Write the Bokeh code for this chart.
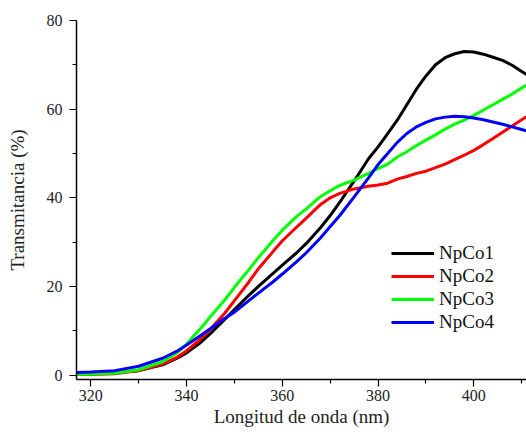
from bokeh.plotting import figure
from bokeh.models import Range1d, FixedTicker, Legend, LegendItem
from bokeh.embed import file_html
from bokeh.resources import INLINE

wavelength = [317, 320, 325, 330, 335, 338, 340, 343, 345, 348, 350, 353, 355, 358, 360,
              363, 365, 368, 370, 372, 375, 378, 380, 382, 384, 386, 388, 390, 392, 394,
              396, 398, 400, 402, 404, 406, 408, 410, 411]

npco1 = [0.2, 0.3, 0.5, 1.0, 2.3, 3.8, 5.0, 7.4, 9.4, 12.6, 14.8, 18.0, 20.0, 22.9, 24.8,
         27.6, 29.7, 33.3, 36.0, 39.0, 43.8, 48.8, 51.5, 54.5, 57.5, 61.0, 64.5, 67.5, 70.0, 71.6,
         72.5, 73.0, 72.9, 72.4, 71.7, 71.0, 69.9, 68.5, 67.8]

npco2 = [0.1, 0.1, 0.3, 1.0, 2.5, 4.0, 5.5, 8.2, 10.4, 14.0, 16.8, 21.0, 24.0, 27.8, 30.3,
         33.4, 35.4, 38.5, 40.0, 41.0, 42.0, 42.6, 42.9, 43.3, 44.2, 44.8, 45.5, 46.0, 46.8, 47.6,
         48.6, 49.6, 50.7, 52.0, 53.4, 54.8, 56.2, 57.6, 58.3]

npco3 = [0.2, 0.2, 0.4, 1.2, 3.0, 5.0, 7.0, 10.6, 13.2, 17.0, 19.8, 23.8, 26.5, 30.3, 32.7,
         35.8, 37.5, 40.3, 41.6, 42.8, 44.0, 45.5, 46.6, 47.6, 49.2, 50.4, 51.8, 53.0, 54.2, 55.5,
         56.6, 57.5, 58.6, 59.8, 61.0, 62.2, 63.4, 64.8, 65.4]

npco4 = [0.6, 0.7, 1.0, 2.0, 3.8, 5.4, 6.8, 9.0, 10.5, 12.8, 14.2, 16.8, 18.5, 21.0, 22.8,
         25.6, 27.6, 31.0, 33.5, 36.0, 40.2, 44.5, 47.5, 50.0, 52.5, 54.5, 56.0, 57.0, 57.8, 58.2,
         58.4, 58.3, 58.0, 57.6, 57.1, 56.6, 56.0, 55.4, 55.1]

series_names = ["NpCo1", "NpCo2", "NpCo3", "NpCo4"]
series_colors = ["#000000", "#FF0000", "#00FF00", "#0000FF"]
x_ticks = [320, 340, 360, 380, 400]
y_ticks = [0, 20, 40, 60, 80]

FONT = "'Liberation Serif', 'Times New Roman', serif"

p = figure(width=526, height=432, output_backend="svg", toolbar_location=None,
           x_range=Range1d(317, 411), y_range=Range1d(-1, 80),
           min_border_left=76, min_border_right=0, min_border_top=20, min_border_bottom=53)
p.outline_line_color = None
p.xgrid.visible = False
p.ygrid.visible = False

renderers = []
for ys, c in zip([npco1, npco2, npco3, npco4], series_colors):
    r = p.line(wavelength, ys, line_color=c, line_width=3)
    renderers.append(r)

for ax in (p.xaxis[0], p.yaxis[0]):
    ax.axis_line_width = 1.5
    ax.axis_line_color = "#000000"
    ax.major_tick_line_color = "#000000"
    ax.minor_tick_line_color = "#000000"
    ax.major_tick_line_width = 1.2
    ax.minor_tick_line_width = 1.2
    ax.major_tick_out = 7
    ax.major_tick_in = 0
    ax.minor_tick_out = 4
    ax.minor_tick_in = 0
    ax.major_label_text_font = FONT
    ax.major_label_text_font_size = "16px"
    ax.major_label_text_color = "#222222"
    ax.axis_label_text_font = FONT
    ax.axis_label_text_font_size = "19px"
    ax.axis_label_text_font_style = "normal"
    ax.axis_label_text_color = "#222222"

p.xaxis[0].ticker = FixedTicker(ticks=x_ticks, minor_ticks=[330, 350, 370, 390, 410])
p.yaxis[0].ticker = FixedTicker(ticks=y_ticks, minor_ticks=[10, 30, 50, 70])
p.xaxis[0].axis_label = "Longitud de onda (nm)"
p.yaxis[0].axis_label = "Transmitancia (%)"
p.xaxis[0].major_label_standoff = 3
p.yaxis[0].major_label_standoff = 7
p.xaxis[0].axis_label_standoff = 2
p.yaxis[0].axis_label_standoff = 16

legend = Legend(items=[LegendItem(label=n, renderers=[r]) for n, r in zip(series_names, renderers)],
                location=(315, 46))
legend.border_line_color = None
legend.background_fill_alpha = 0
legend.padding = 0
legend.margin = 0
legend.spacing = 1
legend.glyph_width = 43
legend.glyph_height = 20
legend.label_standoff = 5
legend.label_text_font = FONT
legend.label_text_font_size = "19px"
legend.label_text_color = "#111111"
p.add_layout(legend)

open("out.html", "w").write(file_html(p, INLINE))
